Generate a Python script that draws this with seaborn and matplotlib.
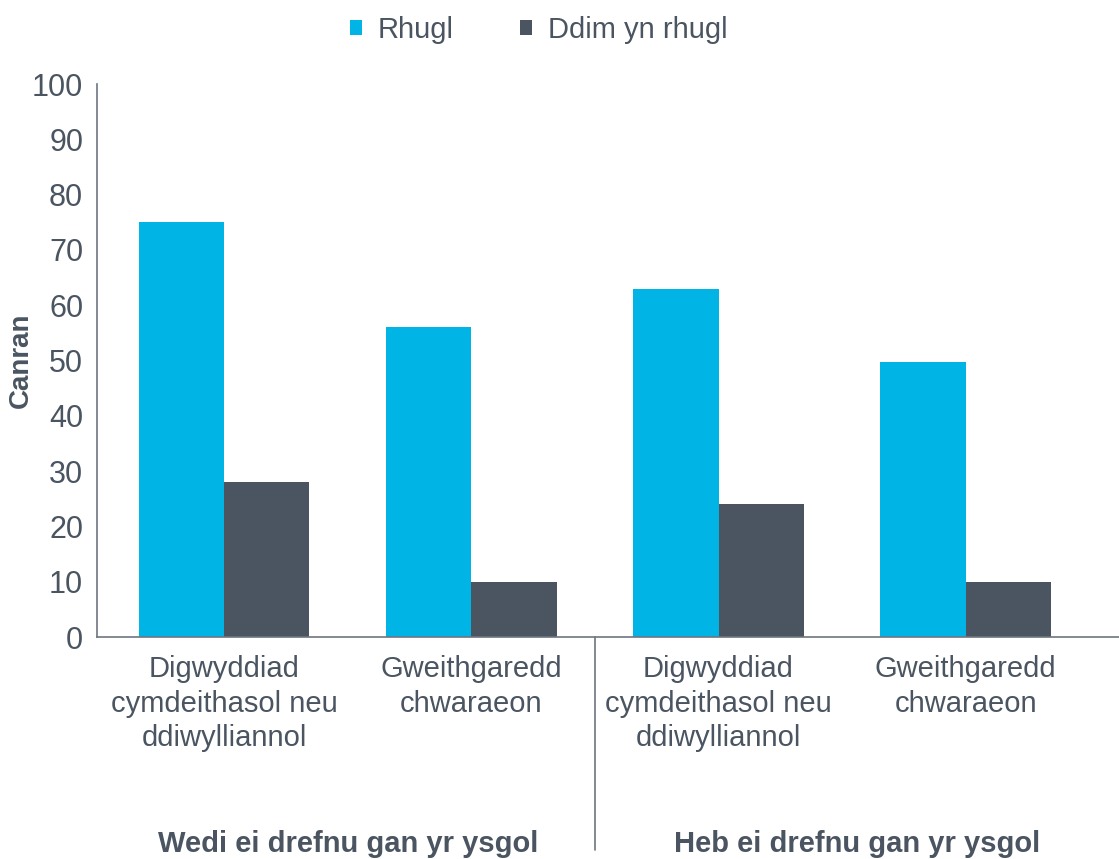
import pandas as pd
import matplotlib.pyplot as plt
import seaborn as sns

# Data
groups = ['Wedi ei drefnu gan yr ysgol', 'Heb ei drefnu gan yr ysgol']
activities = ['Digwyddiad\ncymdeithasol neu\nddiwylliannol', 'Gweithgaredd\nchwaraeon']
series = ['Rhugl', 'Ddim yn rhugl']
rhugl = [75, 56, 63, 49.7]
ddim = [28, 10, 24, 10]

slots = [f'{g}|{a}' for g in groups for a in activities]
tick_labels = [a for g in groups for a in activities]

df = pd.DataFrame({
    'slot': slots * 2,
    'Canran': rhugl + ddim,
    'Grŵp': [series[0]] * 4 + [series[1]] * 4,
})

sns.set_theme(style='white')
plt.rcParams['font.family'] = ['Liberation Sans', 'DejaVu Sans']
txt = '#4a5561'
axcol = '#6d7680'

fig = plt.figure(figsize=(11.19, 8.59), dpi=100)
ax = fig.add_axes([0.0867, 0.2584, 0.9133, 0.6438])

sns.barplot(data=df, x='slot', y='Canran', hue='Grŵp', order=slots,
            palette=['#00b4e6', '#4b5561'], width=0.69, saturation=1,
            linewidth=0, ax=ax, legend=True)

ax.set_ylim(0, 100)
ax.set_xlim(-0.514, 3.62)
ax.set_yticks(range(0, 101, 10))
ax.tick_params(axis='y', labelsize=22, colors=txt, length=7, width=1.2, color=axcol, pad=3)

ax.set_xticks(range(4))
ax.set_xticklabels(tick_labels, fontsize=21, color=txt, linespacing=1.3)
ax.tick_params(axis='x', length=0, pad=13)
ax.set_xticks([-0.5, 0.5, 1.5, 2.5, 3.5], minor=True)
ax.tick_params(axis='x', which='minor', length=9, width=1.2, color=axcol)

ax.set_xlabel('')
ax.set_ylabel('Canran', fontsize=20, fontweight='bold', color=txt)
ax.yaxis.set_label_coords(-0.062, 0.5)

for s in ['top', 'right']:
    ax.spines[s].set_visible(False)
for s in ['left', 'bottom']:
    ax.spines[s].set_color(axcol)
    ax.spines[s].set_linewidth(1.2)

# group separator and group labels
ax.plot([1.5, 1.5], [0, -0.385], transform=ax.get_xaxis_transform(),
        color=axcol, lw=1.2, clip_on=False)
for x, g in zip([0.5, 2.56], groups):
    ax.text(x, -0.375, g, transform=ax.get_xaxis_transform(), ha='center', va='center',
            fontsize=21, fontweight='bold', color=txt)

leg = ax.legend(loc='center', bbox_to_anchor=(0.432, 1.098), ncol=2, frameon=False,
                fontsize=21, handlelength=0.42, handleheight=0.42, handletextpad=0.55,
                columnspacing=2.25)
for t in leg.get_texts():
    t.set_color(txt)

fig.savefig('out.png', dpi=100)
